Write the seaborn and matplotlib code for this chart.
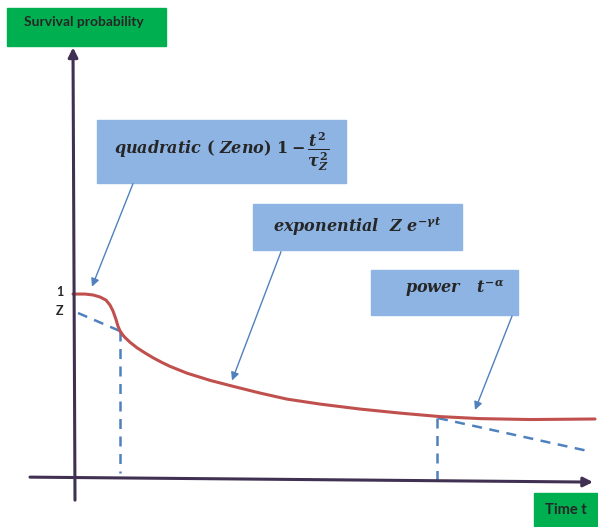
import matplotlib
matplotlib.use("Agg")
import matplotlib.pyplot as plt
import seaborn as sns

# Survival probability curve (schematic)
t_curve = [-0.02, 0.10, 0.18, 0.25, 0.31, 0.35, 0.38, 0.41, 0.43, 0.45,
           0.48, 0.50, 0.55, 0.62, 0.70, 0.78, 0.87, 0.95, 1.12, 1.35,
           1.57, 1.85, 2.12, 2.45, 2.85, 3.25, 3.65, 4.05, 4.55, 5.20]
p_curve = [1.000, 1.000, 0.995, 0.984, 0.967, 0.940, 0.908, 0.862, 0.825, 0.800,
           0.776, 0.764, 0.738, 0.708, 0.680, 0.654, 0.628, 0.607, 0.570, 0.531,
           0.500, 0.462, 0.429, 0.402, 0.375, 0.353, 0.334, 0.323, 0.318, 0.321]

# dashed guides: Z e^{-gamma t} extrapolation and power-law tail
t_zline = [0.03, 0.45]
p_zline = [0.897, 0.799]
t_tail = [3.63, 5.13]
p_tail = [0.326, 0.147]
t_drop = [0.45, 3.62]
p_drop_top = [0.799, 0.326]
p_drop_bot = [0.03, -0.01]

# y tick marks
tick_vals = [1.0, 0.897]
tick_labels = ["1", "Z"]

# annotation arrows: (text anchor, arrow tip)
arrow_from = [(0.58, 1.60), (2.06, 1.23), (4.37, 0.88)]
arrow_to = [(0.17, 1.04), (1.57, 0.53), (4.00, 0.37)]

red = "#C0504D"
blue = "#4F81BD"
box_blue = "#8EB4E3"
green = "#00B050"
axis_col = "#403152"

sns.set_style("white")
plt.rcParams["mathtext.fontset"] = "custom"
plt.rcParams["mathtext.it"] = "DejaVu Serif:italic:bold"
plt.rcParams["mathtext.rm"] = "DejaVu Serif:bold"
plt.rcParams["mathtext.bf"] = "DejaVu Serif:bold"

fig = plt.figure(figsize=(5.98, 5.27), dpi=100)
ax = fig.add_axes([0, 0, 1, 1])
ax.set_xlim(-0.75, 5.23)
ax.set_ylim(-0.266, 2.598)
ax.axis("off")

# axes arrows
ax.annotate("", xy=(-0.02, 2.34), xytext=(0.0, -0.12),
            arrowprops=dict(arrowstyle="-|>", color=axis_col, lw=2.2,
                            mutation_scale=14, shrinkA=0, shrinkB=0))
ax.annotate("", xy=(5.18, -0.022), xytext=(-0.45, 0.005),
            arrowprops=dict(arrowstyle="-|>", color=axis_col, lw=2.2,
                            mutation_scale=14, shrinkA=0, shrinkB=0))

# dashed guides
ax.plot(t_zline, p_zline, ls=(0, (4, 3)), color=blue, lw=1.8)
ax.plot(t_tail, p_tail, ls=(0, (4, 3)), color=blue, lw=1.8)
for t0, top, bot in zip(t_drop, p_drop_top, p_drop_bot):
    ax.plot([t0, t0], [top, bot], ls=(0, (4, 3)), color=blue, lw=1.8)

# the curve
sns.lineplot(x=t_curve, y=p_curve, sort=False, color=red, lw=2.2, ax=ax,
             solid_joinstyle="round", solid_capstyle="round")

# tick labels 1 and Z
for v, lab in zip(tick_vals, tick_labels):
    ax.text(-0.12, v + 0.01, lab, ha="right", va="center", fontsize=9,
            fontweight="bold", family="Lato")

# label boxes
def box(ax, x0, y0, x1, y1, color):
    # pixel coords -> data
    tx0, tx1 = (x0 - 75) / 100, (x1 - 75) / 100
    py0, py1 = (478 - y1) / 184, (478 - y0) / 184
    ax.add_patch(plt.Rectangle((tx0, py0), tx1 - tx0, py1 - py0,
                               color=color, zorder=3))
    return (tx0 + tx1) / 2, (py0 + py1) / 2

cx, cy = box(ax, 7, 8, 166, 46, green)
ax.text(cx - 0.03, cy + 0.03, "Survival probability", ha="center", va="center",
        fontsize=10, fontweight="bold", family="Lato", zorder=4)
cx, cy = box(ax, 534, 493, 598, 527, green)
ax.text(cx, cy, "Time t", ha="center", va="center",
        fontsize=10.5, fontweight="bold", family="Lato", zorder=4)

cx, cy = box(ax, 97, 120, 346, 183, box_blue)
ax.text(cx, cy, r"$quadratic\ (\ Zeno)\ 1-\dfrac{t^2}{\tau_Z^2}$",
        ha="center", va="center", fontsize=11.5, zorder=4)
cx, cy = box(ax, 253, 204, 462, 250, box_blue)
ax.text(cx, cy, r"$exponential\ \ Z\ e^{-\gamma t}$",
        ha="center", va="center", fontsize=11.5, zorder=4)
cx, cy = box(ax, 371, 270, 518, 315, box_blue)
ax.text(cx + 0.1, cy + 0.02, r"$power\ \ \ t^{-\alpha}$",
        ha="center", va="center", fontsize=11.5, zorder=4)

for (x0, y0), (x1, y1) in zip(arrow_from, arrow_to):
    ax.annotate("", xy=(x1, y1), xytext=(x0, y0),
                arrowprops=dict(arrowstyle="-|>", color=blue, lw=1.0,
                                mutation_scale=12, shrinkA=0, shrinkB=0))

fig.savefig("out.png", dpi=100)
